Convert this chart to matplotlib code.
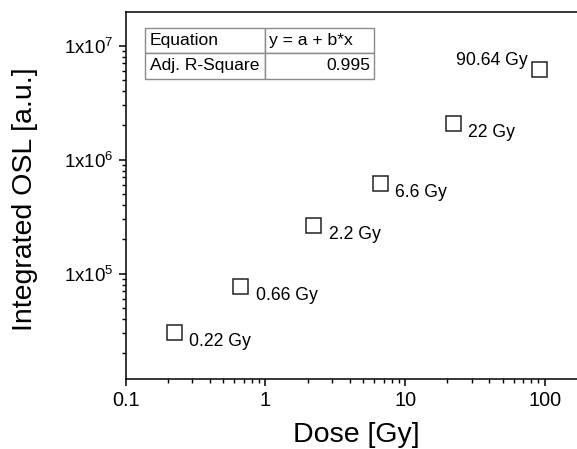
import numpy as np
import matplotlib
matplotlib.use("Agg")
import matplotlib.pyplot as plt
from matplotlib.ticker import FixedLocator, FuncFormatter, LogLocator, NullFormatter

plt.rcParams['font.family'] = ['Liberation Sans', 'DejaVu Sans']
plt.rcParams['mathtext.fontset'] = 'custom'
plt.rcParams['mathtext.rm'] = 'Liberation Sans'

# data
dose = [0.22, 0.66, 2.2, 6.6, 22, 90.64]
osl = [3.1e4, 7.85e4, 2.66e5, 6.3e5, 2.09e6, 6.3e6]
point_labels = ["0.22 Gy", "0.66 Gy", "2.2 Gy", "6.6 Gy", "22 Gy", "90.64 Gy"]
x_ticks = [0.1, 1, 10, 100]
x_ticklabels = ["0.1", "1", "10", "100"]
y_ticks = [1e5, 1e6, 1e7]
table_rows = [["Equation", "y = a + b*x"], ["Adj. R-Square", "0.995"]]

fig = plt.figure(figsize=(5.77, 4.49), dpi=100)
ax = fig.add_axes([0.218, 0.1566, 0.782, 0.816])

ax.plot(dose, osl, linestyle='none', marker='s', markersize=10.8,
        markerfacecolor='white', markeredgecolor='#222222', markeredgewidth=1.1)

ax.set_xscale('log')
ax.set_yscale('log')
ax.set_xlim(0.1, 170)
ax.set_ylim(1.2e4, 1.96e7)

ax.xaxis.set_major_locator(FixedLocator(x_ticks))
ax.xaxis.set_major_formatter(FuncFormatter(lambda v, p: x_ticklabels[x_ticks.index(v)] if v in x_ticks else ""))
ax.xaxis.set_minor_locator(LogLocator(base=10, subs=np.arange(2, 10)))
ax.xaxis.set_minor_formatter(NullFormatter())

ax.yaxis.set_major_locator(FixedLocator(y_ticks))
ax.yaxis.set_major_formatter(FuncFormatter(lambda v, p: r"1x10$^{%d}$" % round(np.log10(v))))
ax.yaxis.set_minor_locator(LogLocator(base=10, subs=np.arange(2, 10)))
ax.yaxis.set_minor_formatter(NullFormatter())

ax.tick_params(which='major', direction='out', length=5, width=1.1, pad=4)
ax.tick_params(which='minor', direction='out', length=3, width=1.0)
ax.tick_params(axis='x', labelsize=14.3)
ax.tick_params(axis='y', labelsize=13.5)
ax.tick_params(top=False, right=False)

for side in ['left', 'bottom', 'top']:
    ax.spines[side].set_linewidth(1.1)
ax.spines['right'].set_visible(False)

ax.set_xlabel("Dose [Gy]", fontsize=20.5)
ax.set_ylabel("Integrated OSL [a.u.]", fontsize=20.5)
ax.xaxis.set_label_coords(0.512, -0.154)
ax.xaxis.label.set_va('center')
ax.yaxis.set_label_coords(-0.223, 0.49)
ax.yaxis.label.set_va('center')

for x, y, lab in zip(dose, osl, point_labels):
    if lab == "90.64 Gy":
        ax.annotate(lab, (x, y), xytext=(-8, 6), textcoords='offset points',
                    ha='right', va='center', fontsize=12.7)
    else:
        ax.annotate(lab, (x, y), xytext=(11, -7), textcoords='offset points',
                    ha='left', va='center', fontsize=12.7)

tbl = ax.table(cellText=table_rows, colWidths=[0.523, 0.477],
               bbox=[0.0428, 0.8188, 0.508, 0.139], cellLoc='left')
tbl.auto_set_font_size(False)
for (r, c), cell in tbl.get_celld().items():
    cell.set_edgecolor('#8a8a8a')
    cell.set_linewidth(1.0)
    cell.set_text_props(fontsize=12.6)
    cell.PAD = 0.04
    if r == 1 and c == 1:
        cell._loc = 'right'
        cell.get_text().set_ha('right')

fig.savefig("out.png", dpi=100)
